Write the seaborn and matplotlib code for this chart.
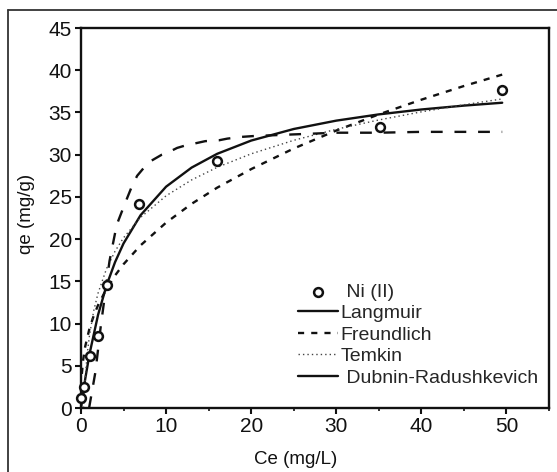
import numpy as np
import matplotlib.pyplot as plt
import pandas as pd
import seaborn as sns
from matplotlib.lines import Line2D

# measured data (Ni(II) adsorption)
ce_exp = [0.0, 0.4, 1.0, 2.0, 3.0, 6.85, 16.0, 35.1, 49.5]
qe_exp = [1.2, 2.5, 6.1, 8.5, 14.6, 24.2, 29.3, 33.3, 37.7]

# fitted curves
ce_lang = [0, 0.5, 1, 2, 3, 4, 5, 7, 10, 13, 16, 20, 25, 30, 35, 40, 45, 49.5]
qe_lang = [0, 3.47, 6.39, 11.01, 14.52, 17.27, 19.49, 22.83, 26.21, 28.47,
           30.10, 31.67, 33.04, 34.03, 34.77, 35.35, 35.81, 36.15]

ce_freu = [0.1, 0.25, 0.5, 1, 1.5, 2, 3, 4, 5, 7, 10, 13, 16, 20, 25, 30, 35, 40, 45, 49.5]
qe_freu = [4.04, 5.67, 7.31, 9.43, 10.94, 12.17, 14.12, 15.69, 17.03, 19.26,
           21.95, 24.18, 26.09, 28.29, 30.73, 32.86, 34.77, 36.51, 38.13, 39.48]

ce_temk = [0.3, 0.5, 0.75, 1, 1.5, 2, 3, 4, 5, 7, 10, 13, 16, 20, 25, 30, 35, 40, 45, 49.5]
qe_temk = [0.0, 3.65, 6.56, 8.62, 11.53, 13.59, 16.50, 18.56, 20.16, 22.57,
           25.13, 27.01, 28.50, 30.10, 31.70, 33.01, 34.11, 35.07, 35.91, 36.60]

ce_dr = [0.95, 1.7, 2.3, 3.0, 3.35, 4.2, 5.2, 6.0, 6.6, 7.6, 8.3, 9.5, 10.3, 11.3,
         12.3, 13.7, 14.6, 16.2, 17.2, 18.8, 20.2, 25, 30, 35, 40, 45, 49.5]
qe_dr = [0.0, 4.3, 9.5, 14.8, 17.4, 21.7, 24.3, 26.3, 27.5, 28.7, 29.3, 30.0, 30.3, 30.8,
         31.1, 31.4, 31.6, 31.7, 31.9, 32.1, 32.2, 32.4, 32.6, 32.6, 32.7, 32.7, 32.7]

sns.set_style("ticks")
plt.rcParams['font.family'] = ['Liberation Sans', 'DejaVu Sans']

fig = plt.figure(figsize=(5.57, 4.72), dpi=100)
ax = fig.add_axes([81/557, 1-408/472, (549-81)/557, (408-28)/472])

lw = 1.7
sns.lineplot(x=ce_lang, y=qe_lang, ax=ax, color='#111111', lw=lw, label='Langmuir',
             estimator=None, sort=False)
sns.lineplot(x=ce_freu, y=qe_freu, ax=ax, color='#111111', lw=lw, label='Freundlich',
             estimator=None, sort=False, linestyle=(0, (2.6, 3.0)))
sns.lineplot(x=ce_temk, y=qe_temk, ax=ax, color='#444444', lw=1.0, label='Temkin',
             estimator=None, sort=False, linestyle=(0, (1, 2.2)))
sns.lineplot(x=ce_dr, y=qe_dr, ax=ax, color='#111111', lw=lw, label=' Dubnin-Radushkevich',
             estimator=None, sort=False, linestyle=(0, (5.0, 5.0)))
sns.scatterplot(x=ce_exp, y=qe_exp, ax=ax, marker='o', s=40, facecolor='white',
                edgecolor='#111111', linewidth=1.8, label=' Ni (II)', zorder=5, clip_on=False)

ax.set_xlim(0, 55)
ax.set_ylim(0, 45)
ax.set_xticks(range(0, 51, 10))
ax.set_xticks(range(5, 56, 10), minor=True)
ax.set_yticks(range(0, 46, 5))
ax.tick_params(which='major', direction='out', length=4.5, width=1.5, colors='#111111',
               labelsize=15, pad=2)
ax.tick_params(which='minor', axis='x', direction='out', length=2.5, width=1.2, colors='#111111')
for s in ax.spines.values():
    s.set_visible(True)
    s.set_linewidth(1.7)
    s.set_color('#111111')

ax.set_xlabel('Ce (mg/L)', fontsize=13.5, color='#111111')
ax.set_ylabel('qe (mg/g)', fontsize=13.5, color='#111111')
ax.xaxis.set_label_coords(0.459, -0.112)
ax.yaxis.set_label_coords(-0.098, 0.51)

handles, labels = ax.get_legend_handles_labels()
order = [4, 0, 1, 2, 3]
leg = ax.legend([handles[i] for i in order], [labels[i] for i in order],
                loc='upper left', bbox_to_anchor=((298-81)/468, (408-283)/380),
                frameon=False, fontsize=14, borderpad=0, borderaxespad=0,
                handlelength=2.05, handletextpad=0.15, labelspacing=0.2)
# DR handle drawn solid in the legend
leg.legend_handles[-1].set_linestyle('-')

# outer frame around the figure
fig.add_artist(Line2D([8/557, 8/557], [0, 1-10/472], transform=fig.transFigure,
                      color='#333333', lw=1.3))
fig.add_artist(Line2D([8/557, 1], [1-10/472, 1-10/472], transform=fig.transFigure,
                      color='#333333', lw=1.3))

fig.savefig('out.png', dpi=100)
